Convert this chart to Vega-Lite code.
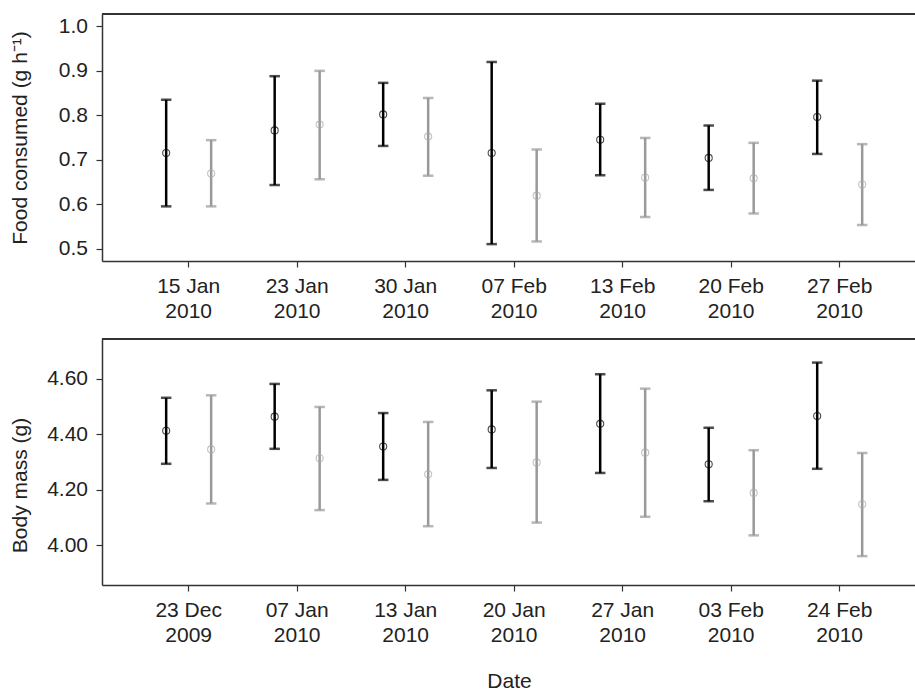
{
  "$schema": "https://vega.github.io/schema/vega-lite/v6.json",
  "padding": {"left": 8, "right": 0, "top": 13, "bottom": 0},
  "spacing": 17,
  "config": {
    "font": "Liberation Sans",
    "view": {"stroke": null},
    "axis": {
      "labelFont": "Liberation Sans", "titleFont": "Liberation Sans",
      "labelFontSize": 21, "titleFontSize": 21, "titleFontWeight": "normal",
      "labelColor": "#222", "titleColor": "#222",
      "domainColor": "#333", "domainWidth": 1.5, "tickColor": "#333", "tickWidth": 1.2, "tickSize": 6,
      "grid": false
    }
  },
  "datasets": {
    "food": [
      {"date": "15 Jan 2010", "group": "A", "mean": 0.715, "lo": 0.595, "hi": 0.835},
      {"date": "15 Jan 2010", "group": "B", "mean": 0.669, "lo": 0.595, "hi": 0.744},
      {"date": "23 Jan 2010", "group": "A", "mean": 0.766, "lo": 0.643, "hi": 0.888},
      {"date": "23 Jan 2010", "group": "B", "mean": 0.779, "lo": 0.656, "hi": 0.900},
      {"date": "30 Jan 2010", "group": "A", "mean": 0.802, "lo": 0.731, "hi": 0.873},
      {"date": "30 Jan 2010", "group": "B", "mean": 0.752, "lo": 0.664, "hi": 0.839},
      {"date": "07 Feb 2010", "group": "A", "mean": 0.715, "lo": 0.510, "hi": 0.920},
      {"date": "07 Feb 2010", "group": "B", "mean": 0.619, "lo": 0.516, "hi": 0.723},
      {"date": "13 Feb 2010", "group": "A", "mean": 0.745, "lo": 0.665, "hi": 0.826},
      {"date": "13 Feb 2010", "group": "B", "mean": 0.660, "lo": 0.571, "hi": 0.749},
      {"date": "20 Feb 2010", "group": "A", "mean": 0.704, "lo": 0.632, "hi": 0.777},
      {"date": "20 Feb 2010", "group": "B", "mean": 0.658, "lo": 0.579, "hi": 0.738},
      {"date": "27 Feb 2010", "group": "A", "mean": 0.796, "lo": 0.713, "hi": 0.878},
      {"date": "27 Feb 2010", "group": "B", "mean": 0.644, "lo": 0.553, "hi": 0.735}
    ],
    "mass": [
      {"date": "23 Dec 2009", "group": "A", "mean": 4.412, "lo": 4.293, "hi": 4.531},
      {"date": "23 Dec 2009", "group": "B", "mean": 4.345, "lo": 4.150, "hi": 4.540},
      {"date": "07 Jan 2010", "group": "A", "mean": 4.463, "lo": 4.347, "hi": 4.581},
      {"date": "07 Jan 2010", "group": "B", "mean": 4.313, "lo": 4.126, "hi": 4.498},
      {"date": "13 Jan 2010", "group": "A", "mean": 4.355, "lo": 4.235, "hi": 4.476},
      {"date": "13 Jan 2010", "group": "B", "mean": 4.255, "lo": 4.068, "hi": 4.444},
      {"date": "20 Jan 2010", "group": "A", "mean": 4.417, "lo": 4.278, "hi": 4.558},
      {"date": "20 Jan 2010", "group": "B", "mean": 4.298, "lo": 4.081, "hi": 4.517},
      {"date": "27 Jan 2010", "group": "A", "mean": 4.437, "lo": 4.260, "hi": 4.616},
      {"date": "27 Jan 2010", "group": "B", "mean": 4.333, "lo": 4.102, "hi": 4.564},
      {"date": "03 Feb 2010", "group": "A", "mean": 4.291, "lo": 4.158, "hi": 4.423},
      {"date": "03 Feb 2010", "group": "B", "mean": 4.188, "lo": 4.035, "hi": 4.342},
      {"date": "24 Feb 2010", "group": "A", "mean": 4.465, "lo": 4.275, "hi": 4.658},
      {"date": "24 Feb 2010", "group": "B", "mean": 4.147, "lo": 3.960, "hi": 4.332}
    ]
  },
  "vconcat": [
    {
      "width": 814, "height": 247,
      "data": {"name": "food"},
      "encoding": {
        "x": {"field": "date", "type": "nominal", "sort": null,
          "scale": {"type": "band", "paddingInner": 0, "paddingOuter": 0.251, "align": 0.595},
          "axis": {"title": null, "labelAngle": 0, "labelPadding": 8, "labelLineHeight": 25,
            "labelExpr": "[slice(datum.label, 0, 6), slice(datum.label, 7)]"}},
        "xOffset": {"field": "group", "type": "nominal", "scale": {"type": "point", "padding": 0.706}},
        "color": {"field": "group", "type": "nominal", "legend": null,
          "scale": {"domain": ["A", "B"], "range": ["#000000", "#999999"]}}
      },
      "layer": [
        {"mark": {"type": "rule", "strokeWidth": 2.5},
          "encoding": {
            "y": {"field": "lo", "type": "quantitative",
              "scale": {"domain": [0.472, 1.028], "nice": false, "zero": false},
              "axis": {"title": "Food consumed (g h⁻¹)", "values": [0.5, 0.6, 0.7, 0.8, 0.9, 1.0], "format": ".1f", "labelPadding": 8.5, "titleX": -72, "titleBaseline": "bottom"}},
            "y2": {"field": "hi"}}},
        {"mark": {"type": "tick", "thickness": 2.5, "size": 10.5, "orient": "horizontal"},
          "encoding": {"y": {"field": "lo", "type": "quantitative"}}},
        {"mark": {"type": "tick", "thickness": 2.5, "size": 10.5, "orient": "horizontal"},
          "encoding": {"y": {"field": "hi", "type": "quantitative"}}},
        {"mark": {"type": "point", "shape": "circle", "filled": false, "size": 50, "strokeWidth": 1.1},
          "encoding": {"y": {"field": "mean", "type": "quantitative"},
            "stroke": {"field": "group", "type": "nominal", "legend": null,
              "scale": {"domain": ["A", "B"], "range": ["#000000", "#aaaaaa"]}}}},
        {"mark": {"type": "rule", "color": "#333", "strokeWidth": 1.5},
          "encoding": {"y": {"datum": 1.028}, "x": null, "xOffset": null, "color": null}}
      ]
    },
    {
      "width": 814, "height": 246,
      "data": {"name": "mass"},
      "encoding": {
        "x": {"field": "date", "type": "nominal", "sort": null,
          "scale": {"type": "band", "paddingInner": 0, "paddingOuter": 0.251, "align": 0.595},
          "axis": {"title": "Date", "labelAngle": 0, "labelPadding": 8, "labelLineHeight": 25, "titlePadding": 25,
            "labelExpr": "[slice(datum.label, 0, 6), slice(datum.label, 7)]"}},
        "xOffset": {"field": "group", "type": "nominal", "scale": {"type": "point", "padding": 0.706}},
        "color": {"field": "group", "type": "nominal", "legend": null,
          "scale": {"domain": ["A", "B"], "range": ["#000000", "#999999"]}}
      },
      "layer": [
        {"mark": {"type": "rule", "strokeWidth": 2.5},
          "encoding": {
            "y": {"field": "lo", "type": "quantitative",
              "scale": {"domain": [3.856, 4.743], "nice": false, "zero": false},
              "axis": {"title": "Body mass (g)", "values": [4.0, 4.2, 4.4, 4.6], "format": ".2f", "labelPadding": 8.5, "titleX": -72, "titleBaseline": "bottom", "titleY": 146}},
            "y2": {"field": "hi"}}},
        {"mark": {"type": "tick", "thickness": 2.5, "size": 10.5, "orient": "horizontal"},
          "encoding": {"y": {"field": "lo", "type": "quantitative"}}},
        {"mark": {"type": "tick", "thickness": 2.5, "size": 10.5, "orient": "horizontal"},
          "encoding": {"y": {"field": "hi", "type": "quantitative"}}},
        {"mark": {"type": "point", "shape": "circle", "filled": false, "size": 50, "strokeWidth": 1.1},
          "encoding": {"y": {"field": "mean", "type": "quantitative"},
            "stroke": {"field": "group", "type": "nominal", "legend": null,
              "scale": {"domain": ["A", "B"], "range": ["#000000", "#aaaaaa"]}}}},
        {"mark": {"type": "rule", "color": "#333", "strokeWidth": 1.5},
          "encoding": {"y": {"datum": 4.743}, "x": null, "xOffset": null, "color": null}}
      ]
    }
  ]
}
